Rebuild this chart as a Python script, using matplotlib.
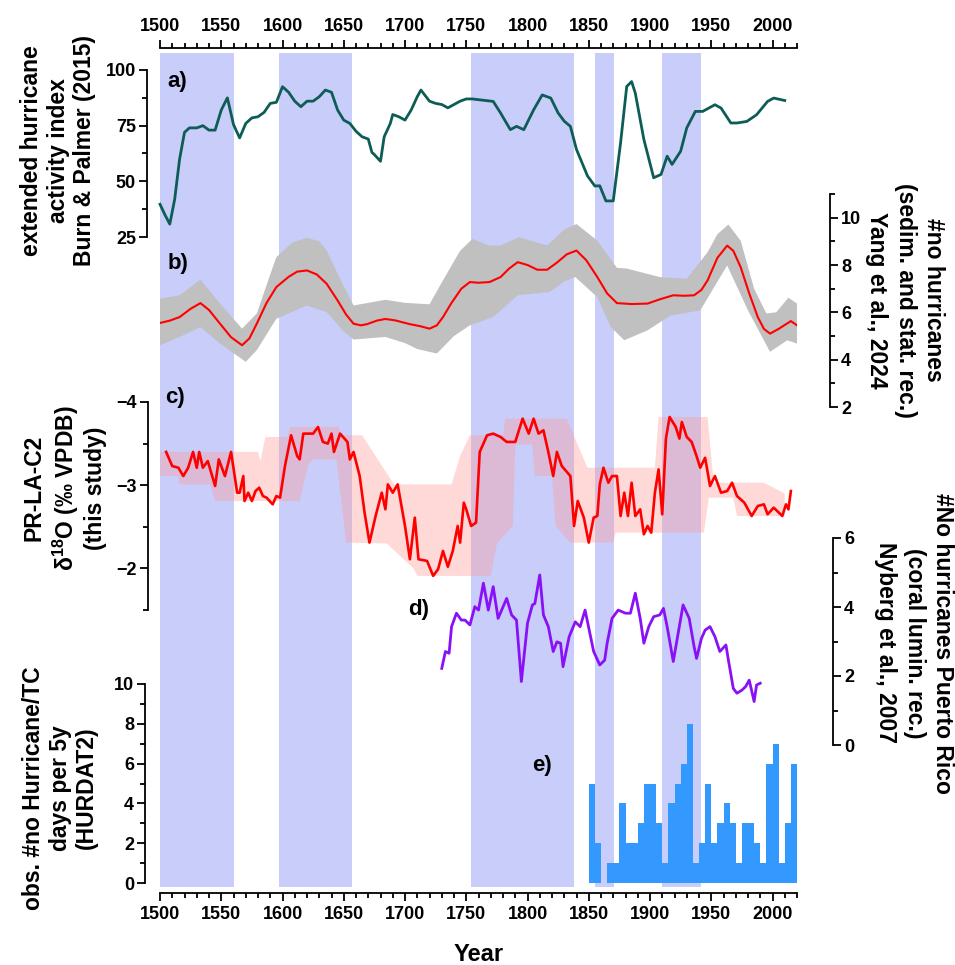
import matplotlib
matplotlib.use("Agg")
import matplotlib.pyplot as plt
import numpy as np
from matplotlib.ticker import MultipleLocator

plt.rcParams['font.family'] = ['Liberation Sans', 'DejaVu Sans']
plt.rcParams['font.weight'] = 'bold'
plt.rcParams['mathtext.fontset'] = 'custom'
plt.rcParams['mathtext.rm'] = 'Liberation Sans:bold'
plt.rcParams['mathtext.bf'] = 'Liberation Sans:bold'
plt.rcParams['mathtext.default'] = 'bf'

# shaded periods
bands = [(1500, 1560), (1597, 1657), (1754, 1838), (1855, 1871), (1910, 1942)]

# a) extended hurricane activity index (Burn & Palmer 2015)
a_years = [1500, 1504, 1508, 1512, 1516, 1520, 1524, 1530, 1535, 1540, 1545, 1550, 1555, 1560,
           1565, 1570, 1575, 1580, 1585, 1590, 1595, 1600, 1605, 1610, 1615, 1620, 1625, 1630,
           1635, 1640, 1645, 1650, 1655, 1660, 1665, 1670, 1673, 1675, 1680, 1683, 1688, 1690,
           1695, 1700, 1705, 1710, 1713, 1720, 1725, 1730, 1735, 1740, 1745, 1750, 1755, 1761,
           1772, 1778, 1786, 1791, 1797, 1805, 1812, 1819, 1825, 1830, 1835, 1840, 1849, 1855,
           1859, 1864, 1870, 1876, 1881, 1885, 1888, 1895, 1903, 1909, 1914, 1918, 1925, 1930,
           1937, 1943, 1953, 1958, 1966, 1971, 1979, 1987, 1996, 2001, 2010]
a_vals = [39.7, 35, 30.8, 42, 60, 72, 74, 74, 75, 73, 73, 82, 87.5, 75.5,
          69.5, 76, 78.5, 79, 81, 85, 85.5, 92.5, 90, 86, 83.5, 86, 86, 88,
          91, 90, 82, 77.5, 76, 72.5, 70, 69, 63, 62, 59, 70, 76, 80,
          79, 77.5, 82, 88, 91, 86, 85, 84.5, 83, 84.5, 86, 87, 87, 86.6,
          85.9, 80.7, 73.2, 74.7, 73.2, 82.1, 88.8, 87.4, 80.7, 77, 74.7, 64.3, 52.4, 47.9,
          48, 41.2, 41.2, 67.4, 92.6, 94.8, 89.6, 68.8, 51.6, 53.1, 61.3, 57.6, 63.5, 74,
          81.4, 81.4, 84.4, 82.9, 76.2, 76.2, 76.9, 79.9, 85.9, 87.4, 86.3]

# b) number of hurricanes (sedim. and stat. rec.), Yang et al. 2024
b_years = [1500, 1508, 1516, 1525, 1533, 1540, 1549, 1558, 1567, 1573, 1579, 1587, 1595, 1605,
           1612, 1620, 1628, 1636, 1645, 1652, 1658, 1664, 1669, 1677, 1684, 1692, 1704, 1712,
           1720, 1726, 1731, 1738, 1746, 1753, 1760, 1769, 1778, 1785, 1792, 1800, 1808, 1816,
           1824, 1832, 1840, 1848, 1857, 1865, 1873, 1885, 1898, 1908, 1919, 1928, 1936, 1942,
           1947, 1955, 1963, 1968, 1974, 1981, 1988, 1993, 1998, 2005, 2015, 2020]
b_vals = [5.55, 5.65, 5.8, 6.15, 6.39, 6.1, 5.52, 4.95, 4.61, 4.9, 5.52, 6.4, 7.07, 7.5,
          7.72, 7.77, 7.6, 7.21, 6.5, 5.9, 5.52, 5.45, 5.5, 5.65, 5.72, 5.66, 5.5, 5.42,
          5.31, 5.45, 5.8, 6.4, 7.0, 7.28, 7.25, 7.28, 7.49, 7.85, 8.12, 8.0, 7.8, 7.8,
          8.1, 8.45, 8.61, 8.2, 7.49, 6.8, 6.39, 6.35, 6.37, 6.55, 6.72, 6.7, 6.72, 6.95,
          7.35, 8.3, 8.82, 8.6, 7.91, 6.8, 5.8, 5.3, 5.1, 5.3, 5.63, 5.45]
b_up_years = [1500, 1516, 1533, 1549, 1567, 1579, 1590, 1595, 1608, 1620, 1630, 1636, 1648, 1658,
              1670, 1684, 1700, 1720, 1731, 1745, 1755, 1769, 1778, 1793, 1816, 1830, 1840, 1857,
              1873, 1881, 1908, 1930, 1947, 1955, 1964, 1974, 1985, 1995, 2003, 2013, 2020]
b_up = [6.58, 6.72, 7.38, 6.37, 5.31, 5.95, 7.6, 8.33, 8.95, 9.15, 9.0, 8.61, 7.3, 6.29,
        6.4, 6.53, 6.4, 6.34, 7.35, 8.6, 9.1, 8.82, 8.82, 9.17, 8.82, 9.5, 9.73, 9.03,
        7.88, 7.85, 7.49, 7.42, 8.54, 9.3, 9.71, 9.03, 7.0, 5.95, 6.0, 6.62, 6.37]
b_lo_years = [1500, 1516, 1533, 1549, 1570, 1579, 1595, 1620, 1636, 1650, 1658, 1684, 1700, 1710,
              1726, 1740, 1753, 1772, 1792, 1818, 1830, 1839, 1857, 1868, 1879, 1898, 1917, 1941,
              1963, 1980, 1998, 2012, 2020]
b_lo = [4.61, 4.96, 5.38, 4.68, 3.91, 4.4, 5.73, 6.29, 6.01, 5.2, 4.85, 4.96, 4.7, 4.45,
        4.26, 5.0, 5.45, 5.8, 6.72, 6.86, 7.3, 7.49, 6.64, 5.38, 4.82, 5.24, 5.87, 6.08,
        7.98, 6.08, 4.33, 4.82, 4.68]

# c) PR-LA-C2 d18O (this study)
c_years = [1505, 1510, 1515, 1519, 1523, 1527, 1530, 1532, 1535, 1539, 1545, 1548, 1553, 1558,
           1563, 1565, 1568, 1569, 1572, 1575, 1578, 1581, 1584, 1587, 1592, 1595, 1598, 1602,
           1607, 1612, 1614, 1617, 1625, 1629, 1633, 1637, 1640, 1642, 1647, 1653, 1655, 1658,
           1663, 1667, 1671, 1676, 1681, 1684, 1686, 1690, 1694, 1700, 1704, 1708, 1711, 1718,
           1723, 1727, 1731, 1735, 1739, 1743, 1745, 1748, 1750, 1754, 1758, 1761, 1767, 1772,
           1778, 1783, 1790, 1796, 1801, 1805, 1809, 1813, 1817, 1821, 1824, 1828, 1835, 1838,
           1841, 1846, 1850, 1854, 1857, 1859, 1862, 1866, 1869, 1873, 1876, 1879, 1882, 1885,
           1888, 1892, 1895, 1898, 1901, 1904, 1907, 1910, 1913, 1916, 1921, 1924, 1926, 1930,
           1934, 1938, 1941, 1945, 1949, 1953, 1958, 1963, 1967, 1971, 1977, 1983, 1988, 1993,
           1996, 2001, 2008, 2011, 2013, 2015]
c_vals = [-3.40, -3.23, -3.21, -3.11, -3.21, -3.40, -3.21, -3.40, -3.21, -3.29, -2.99, -3.31, -3.11, -3.40,
          -2.91, -2.91, -3.11, -2.81, -2.91, -2.81, -2.93, -2.97, -2.87, -2.85, -2.77, -2.87, -2.85, -3.23,
          -3.60, -3.35, -3.31, -3.62, -3.62, -3.70, -3.52, -3.50, -3.62, -3.40, -3.62, -3.52, -3.31, -3.40,
          -3.11, -2.67, -2.31, -2.63, -2.91, -2.71, -3.01, -2.91, -3.01, -2.51, -2.11, -2.61, -2.11, -2.09,
          -1.91, -1.99, -2.21, -2.02, -2.21, -2.51, -2.31, -2.79, -2.71, -2.51, -2.55, -3.40, -3.60, -3.62,
          -3.58, -3.52, -3.52, -3.80, -3.62, -3.80, -3.62, -3.66, -3.40, -3.11, -3.40, -3.23, -3.11, -2.51,
          -2.81, -2.61, -2.31, -2.61, -2.63, -3.01, -3.21, -3.03, -3.11, -3.11, -2.63, -2.91, -2.63, -3.03,
          -2.63, -2.71, -2.41, -2.51, -2.43, -2.91, -3.19, -2.65, -3.56, -3.82, -3.70, -3.56, -3.76, -3.58,
          -3.52, -3.35, -3.21, -3.33, -2.99, -3.11, -2.91, -2.93, -3.03, -2.87, -2.79, -2.63, -2.75, -2.77,
          -2.65, -2.73, -2.63, -2.77, -2.71, -2.93]
c_up_years = [1500, 1580, 1582, 1586, 1604, 1606, 1646, 1648, 1665, 1691, 1738, 1745, 1753, 1780,
              1782, 1832, 1849, 1904, 1907, 1947, 1952, 1993, 2010]
c_up = [-3.40, -3.40, -3.29, -3.58, -3.58, -3.70, -3.70, -3.60, -3.60, -3.01, -3.01, -3.35, -3.60, -3.60,
        -3.80, -3.80, -3.21, -3.21, -3.82, -3.82, -3.03, -3.03, -2.90]
c_lo_years = [1500, 1515, 1516, 1541, 1545, 1614, 1621, 1625, 1644, 1652, 1685, 1707, 1710, 1770,
              1775, 1788, 1790, 1804, 1806, 1820, 1823, 1835, 1870, 1872, 1944, 1948, 1968, 1971,
              2010]
c_lo = [-3.11, -3.11, -3.01, -3.01, -2.81, -2.81, -3.25, -3.31, -3.31, -2.31, -2.30, -2.00, -1.91, -1.91,
        -2.30, -2.51, -3.49, -3.49, -3.11, -3.11, -2.51, -2.31, -2.31, -2.43, -2.43, -2.85, -2.85, -2.63,
        -2.63]

# d) Puerto Rico coral luminescence record (Nyberg et al. 2007)
d_years = [1730, 1733, 1736, 1738, 1742, 1746, 1749, 1753, 1757, 1760, 1764, 1768, 1772, 1776,
           1783, 1787, 1791, 1795, 1800, 1804, 1806, 1810, 1813, 1817, 1821, 1824, 1827, 1829,
           1834, 1839, 1843, 1847, 1854, 1859, 1863, 1865, 1869, 1874, 1880, 1884, 1888, 1892,
           1895, 1899, 1903, 1908, 1911, 1914, 1919, 1923, 1927, 1932, 1936, 1938, 1942, 1945,
           1949, 1953, 1957, 1962, 1964, 1968, 1971, 1975, 1978, 1981, 1985, 1987, 1990]
d_vals = [2.22, 2.71, 2.66, 3.43, 3.82, 3.62, 3.62, 3.48, 4.01, 3.91, 4.69, 3.91, 4.59, 3.67,
          4.25, 3.77, 3.62, 1.84, 3.53, 4.06, 4.10, 4.93, 3.77, 3.43, 2.71, 2.99, 2.95, 2.27,
          3.14, 3.57, 3.43, 3.91, 2.71, 2.32, 2.46, 2.95, 3.67, 3.91, 3.82, 3.82, 4.40, 3.67,
          2.95, 3.43, 3.72, 3.77, 3.96, 3.43, 2.42, 3.24, 4.06, 3.67, 2.85, 2.51, 3.09, 3.33,
          3.43, 3.14, 2.71, 2.90, 2.46, 1.64, 1.50, 1.59, 1.69, 1.88, 1.26, 1.74, 1.79]

# e) observed hurricane/TC days per 5 years (HURDAT2)
e_edges = list(range(1850, 2021, 5))
e_vals = [5, 2, 0, 1, 1, 4, 2, 2, 3, 5, 5, 3, 1, 4, 5, 6, 8, 1, 2, 5, 2, 3, 4, 3, 1, 3, 3, 2,
          1, 6, 7, 1, 3, 6]

W, H = 955, 965
fig = plt.figure(figsize=(W / 100, H / 100), dpi=100)


def rect(ytop, ybot, x0=160, x1=797):
    return [x0 / W, 1 - ybot / H, (x1 - x0) / W, (ybot - ytop) / H]


tk = dict(labelsize=13, width=1.3)

bg = fig.add_axes(rect(48, 893))
bg.set_xlim(1500, 2020)
bg.set_ylim(0, 1)
bg.yaxis.set_visible(False)
for s in ['left', 'right']:
    bg.spines[s].set_visible(False)
for s in ['top', 'bottom']:
    bg.spines[s].set_linewidth(1.3)
bg.xaxis.set_major_locator(MultipleLocator(50))
bg.xaxis.set_minor_locator(MultipleLocator(10))
bg.tick_params(axis='x', which='both', top=True, labeltop=True, bottom=True,
               labelbottom=True, direction='out', **tk)
bg.tick_params(axis='x', which='major', length=6)
bg.tick_params(axis='x', which='minor', length=3.5)
bg.set_xlabel('Year', fontsize=17, fontweight='bold', labelpad=14)
for x0, x1 in bands:
    bg.axvspan(x0, x1, ymin=0.007, ymax=0.994, color='#c8cdfa', lw=0, zorder=0)


def panel(ytop, ybot, side, off, ylim, major, minor):
    ax = fig.add_axes(rect(ytop, ybot))
    ax.patch.set_visible(False)
    ax.set_xlim(1500, 2020)
    ax.set_ylim(*ylim)
    ax.xaxis.set_visible(False)
    for s in ['top', 'bottom', 'left', 'right']:
        ax.spines[s].set_visible(s == side)
    ax.spines[side].set_position(('outward', off * 0.72))
    ax.spines[side].set_linewidth(1.3)
    ax.yaxis.set_ticks_position(side)
    ax.yaxis.set_major_locator(MultipleLocator(major))
    ax.yaxis.set_minor_locator(MultipleLocator(minor))
    ax.tick_params(axis='y', which='both', direction='out', pad=2, **tk)
    ax.tick_params(axis='y', which='major', length=6)
    ax.tick_params(axis='y', which='minor', length=3.5)
    return ax


# a)
ax_a = panel(70, 237, 'left', 13, (25, 100), 25, 12.5)
ax_a.plot(a_years, a_vals, color='#0e5c56', lw=2.0, clip_on=False)

# b)
ax_b = panel(194, 407, 'right', 33, (2, 11), 2, 1)
ax_b.fill(b_up_years + b_lo_years[::-1], b_up + b_lo[::-1], color='#c0c0c0', lw=0)
ax_b.plot(b_years, b_vals, color='#ff0000', lw=1.5)

# c)
ax_c = panel(402, 610, 'left', 12, (-1.5, -4), 1, 0.5)
ax_c.fill(c_up_years + c_lo_years[::-1], c_up + c_lo[::-1], color='#ff9a9a', alpha=0.38, lw=0)
ax_c.plot(c_years, c_vals, color='#ff0000', lw=1.9)

# d)
ax_d = panel(538, 745, 'right', 36, (0, 6), 2, 1)
ax_d.plot(d_years, d_vals, color='#8a10f5', lw=2.0)

# e)
ax_e = panel(684, 883, 'left', 15, (0, 10), 2, 1)
ax_e.stairs(e_vals, e_edges, fill=True, color='#3399ff', lw=0)

# panel letters
lab = dict(fontsize=16, fontweight='bold', ha='left', va='center')
fig.text(167 / W, 1 - 81 / H, 'a)', **lab)
fig.text(168 / W, 1 - 263 / H, 'b)', **lab)
fig.text(165 / W, 1 - 398 / H, 'c)', **lab)
fig.text(408 / W, 1 - 610 / H, 'd)', **lab)
fig.text(532 / W, 1 - 765 / H, 'e)', **lab)

# axis titles
yl = dict(fontsize=16.5, fontweight='bold', ha='center', va='center',
          multialignment='center')
fig.text(58 / W, 1 - 151 / H, 'extended hurricane\nactivity index\nBurn & Palmer (2015)',
         rotation=90, linespacing=1.2, **yl)
fig.text(905 / W, 1 - 300 / H, '#no hurricanes\n(sedim. and stat. rec.)\nYang et al., 2024',
         rotation=270, linespacing=1.3, **yl)
fig.text(65 / W, 1 - 488 / H, 'PR-LA-C2\n$\\delta^{18}$O (\u2030 VPDB)\n(this study)',
         rotation=90, linespacing=1.2, **yl)
fig.text(914 / W, 1 - 643 / H, '#No hurricanes Puerto Rico\n(coral lumin. rec.)\nNyberg et al., 2007',
         rotation=270, linespacing=1.3, **yl)
fig.text(60 / W, 1 - 788 / H, 'obs. #no Hurricane/TC\ndays per 5y\n(HURDAT2)',
         rotation=90, linespacing=1.2, **yl)

fig.savefig('out.png', dpi=100)
